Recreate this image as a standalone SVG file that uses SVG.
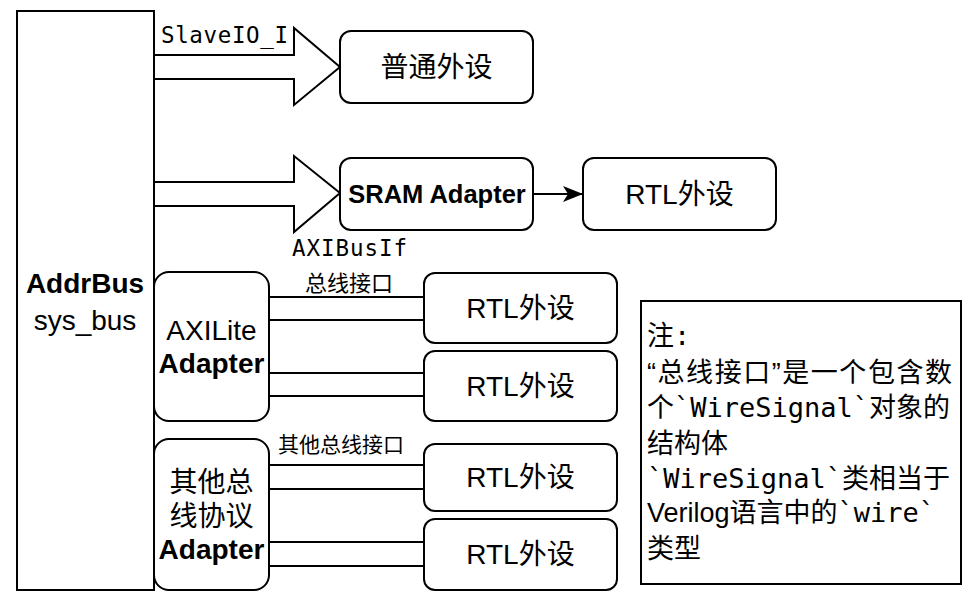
<svg xmlns="http://www.w3.org/2000/svg" width="980" height="605" viewBox="0 0 980 605">
<style>
.box{fill:#fff;stroke:#000;stroke-width:2}
.conn{fill:#fff;stroke:#000;stroke-width:2}
.t{font-family:"Liberation Sans","Noto Sans CJK SC",sans-serif;font-size:28px;fill:#000;text-anchor:middle}
.b{font-weight:bold}
.m{font-family:"DejaVu Sans Mono","Liberation Mono",monospace;font-size:22.5px;fill:#000}
.c{font-family:"Noto Sans CJK SC",sans-serif;fill:#000}
.n{font-family:"Liberation Sans","Noto Sans CJK SC",sans-serif;font-size:27px;fill:#000}
.nm{font-family:"DejaVu Sans Mono","Liberation Mono",monospace}
</style>
<defs>
<marker id="ah" viewBox="0 0 20 16" refX="20" refY="8" markerWidth="20" markerHeight="16" markerUnits="userSpaceOnUse" orient="auto">
<path d="M0,0 L20,8 L0,16 L5,8 Z" fill="#000"/>
</marker>
</defs>
<rect width="980" height="605" fill="#fff"/>
<g id="connectors">
<path class="conn" d="M154,55 L294,55 L294,28 L340,67 L294,105 L294,79 L154,79"/>
<path class="conn" d="M154,182 L294,182 L294,156 L340,193 L294,232 L294,206 L154,206"/>
<line x1="533" y1="194" x2="583" y2="194" stroke="#000" stroke-width="2" marker-end="url(#ah)"/>
<path class="conn" d="M269,297 L424,297 M269,320 L424,320"/>
<path class="conn" d="M269,373 L424,373 M269,396 L424,396"/>
<path class="conn" d="M269,465 L424,465 M269,489 L424,489"/>
<path class="conn" d="M269,542 L424,542 M269,566 L424,566"/>
<text class="m" x="161" y="43" textLength="127" lengthAdjust="spacing">SlaveIO_I</text>
<text class="m" x="292" y="256" textLength="115" lengthAdjust="spacing">AXIBusIf</text>
<text class="c" x="349" y="291" font-size="22" text-anchor="middle">总线接口</text>
<text class="c" x="341" y="452" font-size="21" text-anchor="middle">其他总线接口</text>
</g>
<g id="addrbus">
<rect class="box" x="17" y="11" width="137" height="579"/>
<text class="t b" x="85" y="293">AddrBus</text>
<text class="t" x="85" y="330">sys_bus</text>
</g>
<g id="normal">
<rect class="box" x="340" y="31" width="193" height="72" rx="11"/>
<text class="t" x="436.5" y="77">普通外设</text>
</g>
<g id="sram">
<rect class="box" x="340" y="158" width="193" height="72" rx="11"/>
<text class="t b" x="437" y="203" style="font-size:25.5px">SRAM Adapter</text>
</g>
<g id="rtl0">
<rect class="box" x="583" y="158" width="193" height="72" rx="11"/>
<text class="t" x="679.5" y="204">RTL外设</text>
</g>
<g id="axilite">
<rect class="box" x="154" y="272" width="115" height="149" rx="15"/>
<text class="t" x="211.5" y="340">AXILite</text>
<text class="t b" x="211.5" y="373">Adapter</text>
</g>
<g id="rtl1">
<rect class="box" x="424" y="273" width="193" height="70" rx="11"/>
<text class="t" x="520.5" y="318">RTL外设</text>
</g>
<g id="rtl2">
<rect class="box" x="424" y="351" width="193" height="70" rx="11"/>
<text class="t" x="520.5" y="396">RTL外设</text>
</g>
<g id="other">
<rect class="box" x="154" y="439" width="115" height="151" rx="15"/>
<text class="t" x="211.5" y="492">其他总</text>
<text class="t" x="211.5" y="526">线协议</text>
<text class="t b" x="211.5" y="559">Adapter</text>
</g>
<g id="rtl3">
<rect class="box" x="424" y="444" width="193" height="67" rx="11"/>
<text class="t" x="520.5" y="487">RTL外设</text>
</g>
<g id="rtl4">
<rect class="box" x="424" y="519" width="193" height="71" rx="11"/>
<text class="t" x="520.5" y="564">RTL外设</text>
</g>
<g id="note">
<rect x="641" y="301" width="320" height="283" fill="#fff" stroke="#000" stroke-width="2"/>
<text class="n" x="647" y="345">注<tspan class="nm">:</tspan></text>
<text class="n" x="647" y="382" textLength="305" lengthAdjust="spacing">“总线接口”是一个包含数</text>
<text class="n" x="647" y="417">个<tspan class="nm">`WireSignal`</tspan>对象的</text>
<text class="n" x="647" y="453">结构体</text>
<text class="n" x="647" y="488"><tspan class="nm">`WireSignal`</tspan>类相当于</text>
<text class="n" x="647" y="522">Verilog语言中的<tspan class="nm">`wire`</tspan></text>
<text class="n" x="647" y="558">类型</text>
</g>
</svg>
